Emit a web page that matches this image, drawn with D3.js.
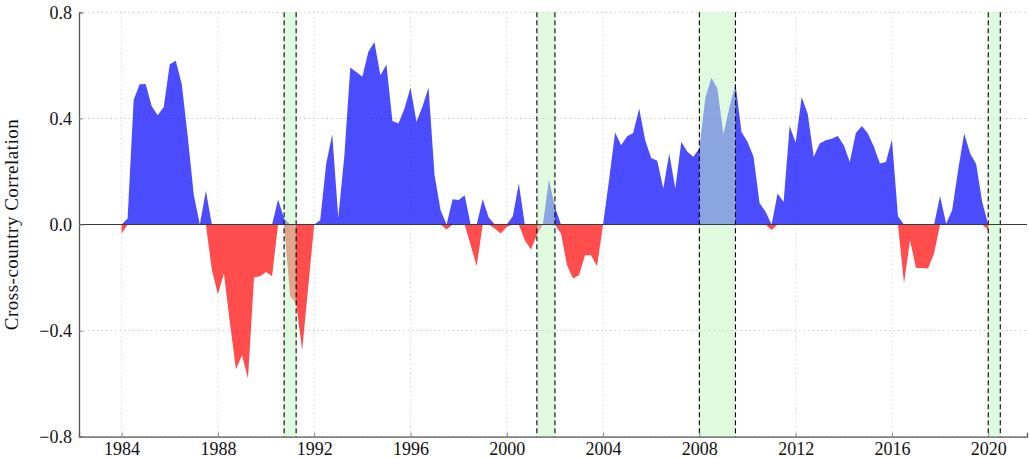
<!DOCTYPE html>
<html>
<head>
<meta charset="utf-8">
<script src="https://cdn.jsdelivr.net/npm/d3@7"></script>
<style>
  body { margin: 0; background: #fff; }
  svg { display: block; }
  text { font-family: "Liberation Serif", "DejaVu Serif", serif; }
</style>
</head>
<body>
<div id="chart"></div>
<script>
// quarterly cross-country correlation, 1984Q1 .. 2020Q1
var startYear = 1984;
var corr = [
  -0.034, 0.023, 0.469, 0.529,
  0.530, 0.446, 0.412, 0.443,
  0.604, 0.617, 0.529, 0.330,
  0.110, 0.000, 0.127, -0.172,
  -0.263, -0.185, -0.370, -0.547,
  -0.493, -0.581, -0.200, -0.195,
  -0.179, -0.195, 0.094, 0.023,
  -0.270, -0.298, -0.474, -0.237,
  0.000, 0.016, 0.230, 0.340,
  0.026, 0.255, 0.592, 0.575,
  0.557, 0.651, 0.688, 0.563,
  0.603, 0.390, 0.381, 0.437,
  0.516, 0.387, 0.446, 0.516,
  0.186, 0.054, -0.019, 0.095,
  0.092, 0.110, -0.078, -0.157,
  0.095, 0.026, -0.015, -0.034,
  -0.009, 0.031, 0.155, -0.059,
  -0.094, -0.040, 0.000, 0.170,
  0.066, -0.034, -0.153, -0.204,
  -0.191, -0.116, -0.116, -0.157,
  0.000, 0.170, 0.347, 0.299,
  0.333, 0.345, 0.437, 0.318,
  0.251, 0.240, 0.136, 0.268,
  0.136, 0.312, 0.274, 0.255,
  0.287, 0.479, 0.553, 0.513,
  0.340, 0.443, 0.530, 0.349,
  0.312, 0.255, 0.081, 0.048,
  -0.021, 0.117, 0.085, 0.371,
  0.308, 0.481, 0.418, 0.255,
  0.305, 0.318, 0.323, 0.334,
  0.299, 0.236, 0.345, 0.371,
  0.343, 0.293, 0.230, 0.236,
  0.320, 0.031, -0.222, -0.059,
  -0.164, -0.164, -0.166, -0.109,
  0.107, 0.003, 0.054, 0.205,
  0.343, 0.268, 0.227, 0.085,
  -0.021
];
// recessions [start, end] in years
var recessions = [[1990.75, 1991.25], [2001.25, 2002.0], [2008.0, 2009.5], [2020.0, 2020.5]];
var xTicks = [1984, 1988, 1992, 1996, 2000, 2004, 2008, 2012, 2016, 2020];
var yTicks = [-0.8, -0.4, 0.0, 0.4, 0.8];
var yLabel = "Cross-country Correlation";

var W = 1029, H = 458;
// note: "top" is taken by window.top, so prefix everything
var pLeft = 79, pRight = 1027, pTop = 12.3, pBottom = 436.7;

var svg = d3.select('#chart').append('svg')
    .attr('width', W)
    .attr('height', H);

var x = d3.scaleLinear().domain([1982.23, 2021.61]).range([pLeft, pRight]);
var y = d3.scaleLinear().domain([-0.8, 0.8]).range([pBottom, pTop]);

var data = corr.map(function(v, i){ return {t: startYear + i / 4, v: v}; });

// dotted grid
svg.append('g').selectAll('line').data(yTicks).enter().append('line')
    .attr('x1', pLeft).attr('x2', pRight)
    .attr('y1', function(d){ return y(d); })
    .attr('y2', function(d){ return y(d); })
    .attr('stroke', '#c8c8c8').attr('stroke-width', 1)
    .attr('stroke-dasharray', '1.5,3');
svg.append('g').selectAll('line').data(xTicks).enter().append('line')
    .attr('x1', function(d){ return x(d); })
    .attr('x2', function(d){ return x(d); })
    .attr('y1', pTop).attr('y2', pBottom)
    .attr('stroke', '#d8d8d8').attr('stroke-width', 1)
    .attr('stroke-dasharray', '1.5,3');

// positive part blue, negative part red
var posArea = d3.area()
    .x(function(d){ return x(d.t); })
    .y0(y(0))
    .y1(function(d){ return y(Math.max(d.v, 0)); });
var negArea = d3.area()
    .x(function(d){ return x(d.t); })
    .y0(y(0))
    .y1(function(d){ return y(Math.min(d.v, 0)); });

svg.append('path').datum(data).attr('d', posArea)
    .attr('fill', 'rgb(0,0,255)').attr('fill-opacity', 0.7);
svg.append('path').datum(data).attr('d', negArea)
    .attr('fill', 'rgb(255,0,0)').attr('fill-opacity', 0.7);

// recession bands go over the areas
svg.append('g').selectAll('rect').data(recessions).enter().append('rect')
    .attr('x', function(d){ return x(d[0]); })
    .attr('width', function(d){ return x(d[1]) - x(d[0]); })
    .attr('y', pTop).attr('height', pBottom - pTop)
    .attr('fill', 'rgb(196,245,196)').attr('fill-opacity', 0.53);

var edges = [];
recessions.forEach(function(r){ edges.push(r[0], r[1]); });
svg.append('g').selectAll('line').data(edges).enter().append('line')
    .attr('x1', function(d){ return x(d); })
    .attr('x2', function(d){ return x(d); })
    .attr('y1', pTop).attr('y2', pBottom)
    .attr('stroke', '#000').attr('stroke-width', 1.1)
    .attr('stroke-dasharray', '5,3');

// zero line
svg.append('line')
    .attr('x1', pLeft).attr('x2', pRight)
    .attr('y1', y(0)).attr('y2', y(0))
    .attr('stroke', '#3a3a3a').attr('stroke-width', 1.2);

// axes
var xAxis = d3.axisBottom(x).tickValues(xTicks).tickSize(-4).tickPadding(6)
    .tickFormat(d3.format('d'));
var yAxis = d3.axisLeft(y).tickValues(yTicks).tickSize(-4).tickPadding(7)
    .tickFormat(d3.format('.1f'));

var gx = svg.append('g').attr('transform', 'translate(0,' + pBottom + ')').call(xAxis);
var gy = svg.append('g').attr('transform', 'translate(' + pLeft + ',0)').call(yAxis);

[gx, gy].forEach(function(g){
    g.select('.domain').attr('stroke', '#555').attr('stroke-width', 1.3);
    g.selectAll('.tick line').attr('stroke', '#888');
    g.selectAll('.tick text').attr('font-size', 18).attr('fill', '#111')
        .attr('font-family', '"Liberation Serif", serif');
});

svg.append('text')
    .attr('transform', 'translate(18,' + ((pTop + pBottom) / 2) + ') rotate(-90)')
    .attr('text-anchor', 'middle')
    .attr('font-size', 19)
    .attr('letter-spacing', 0.5)
    .attr('fill', '#111')
    .text(yLabel);
</script>
</body>
</html>
